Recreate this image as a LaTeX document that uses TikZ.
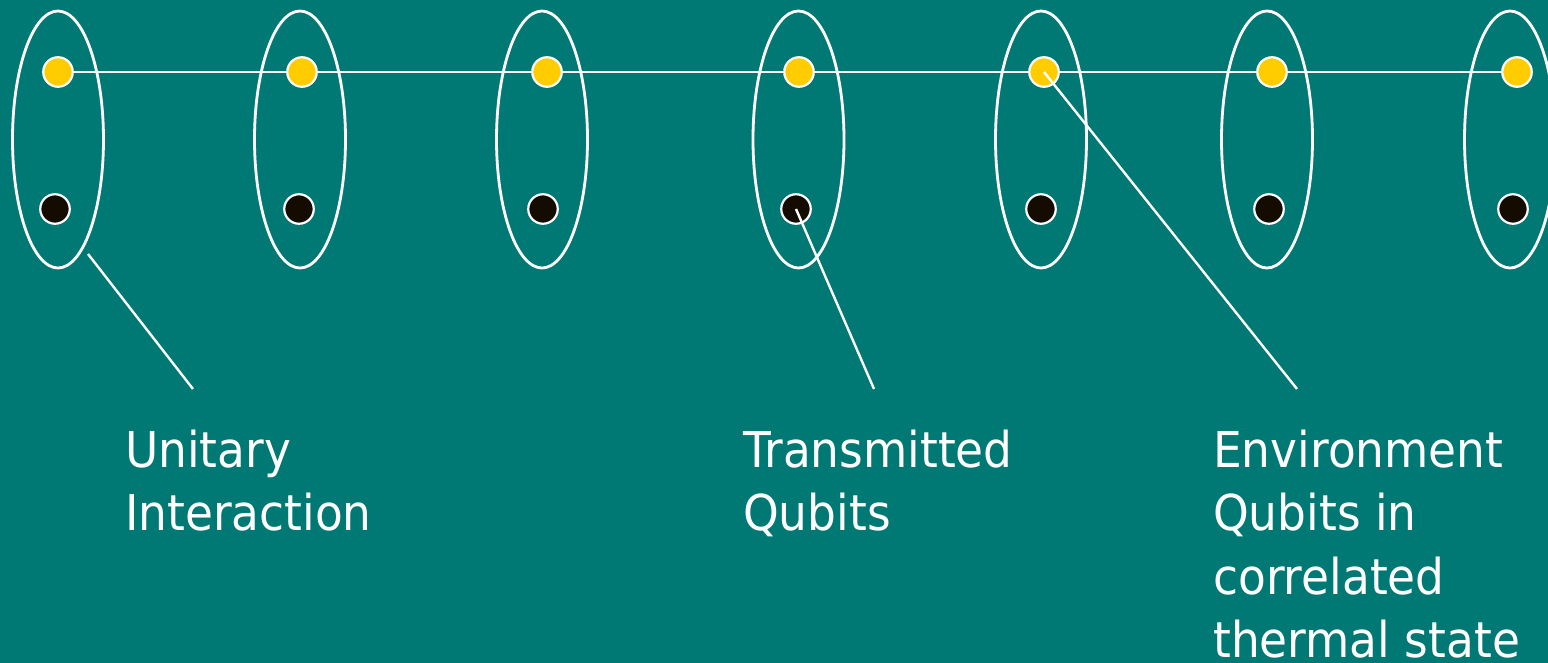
\documentclass[tikz,border=0pt]{standalone}
\usepackage{fontspec}
\setmainfont{DejaVu Sans}[FakeStretch=0.92]
\usetikzlibrary{shapes.geometric,backgrounds}
\definecolor{bgteal}{RGB}{0,121,116}
\definecolor{qyellow}{RGB}{255,204,0}
\definecolor{qdark}{RGB}{20,12,0}
\tikzset{
  pair/.style={ellipse, draw=white, line width=2.8pt, minimum width=91pt, minimum height=257pt, inner sep=0pt},
  envq/.style={circle, draw=white, line width=2.2pt, fill=qyellow, minimum size=29.5pt, inner sep=0pt},
  trq/.style={circle, draw=white, line width=2.2pt, fill=qdark, minimum size=29.5pt, inner sep=0pt},
  wire/.style={white, line width=2.8pt},
  label/.style={text=white, anchor=base west, align=left, inner sep=0pt, font=\fontsize{49.4}{63.5}\selectfont}
}
\begin{document}
\begin{tikzpicture}[x=1pt,y=-1pt]
\useasboundingbox (0,0) rectangle (1548,663);
\begin{pgfonlayer}{background}
\fill[bgteal] (0,0) rectangle (1548,663);
\end{pgfonlayer}
% ellipses
\node[pair] (e1) at (58,139.5) {};
\node[pair] (e2) at (300,139.5) {};
\node[pair] (e3) at (542,139.5) {};
\node[pair] (e4) at (798.5,139.5) {};
\node[pair] (e5) at (1041,139.5) {};
\node[pair] (e6) at (1267,139.5) {};
\node[pair] (e7) at (1510,139.5) {};
% environment qubits
\node[envq] (y1) at (58,72) {};
\node[envq] (y2) at (302,72) {};
\node[envq] (y3) at (547,72) {};
\node[envq] (y4) at (799,72) {};
\node[envq] (y5) at (1044,72) {};
\node[envq] (y6) at (1272,72) {};
\node[envq] (y7) at (1517,72) {};
% transmitted qubits
\node[trq] (b1) at (55,209) {};
\node[trq] (b2) at (299,209) {};
\node[trq] (b3) at (543,209) {};
\node[trq] (b4) at (796,209) {};
\node[trq] (b5) at (1041,209) {};
\node[trq] (b6) at (1269,209) {};
\node[trq] (b7) at (1513,209) {};
% chain line behind the dots
\begin{pgfonlayer}{background}
\draw[wire] (y1.center) -- (y2.center) -- (y3.center) -- (y4.center) -- (y5.center) -- (y6.center) -- (y7.center);
\end{pgfonlayer}
% labels (base anchor = baseline of the last line)
\node[label] (lu) at (125,530.5) {Unitary\\Interaction};
\node[label] (lt) at (743,530.5) {Transmitted\\Qubits};
\node[label] (le) at (1213,657.5) {Environment\\Qubits in\\correlated\\thermal state};
% leader lines
\coordinate (u1) at (88,254);
\coordinate (u2) at (193,389);
\coordinate (t2) at (874,389);
\coordinate (n2) at (1297,389);
\draw[wire, line width=2.4pt] (u1) -- (u2);
\draw[wire, line width=2.4pt] (b4.center) -- (t2);
\draw[wire, line width=2.4pt] (y5.center) -- (n2);
\end{tikzpicture}
\end{document}
